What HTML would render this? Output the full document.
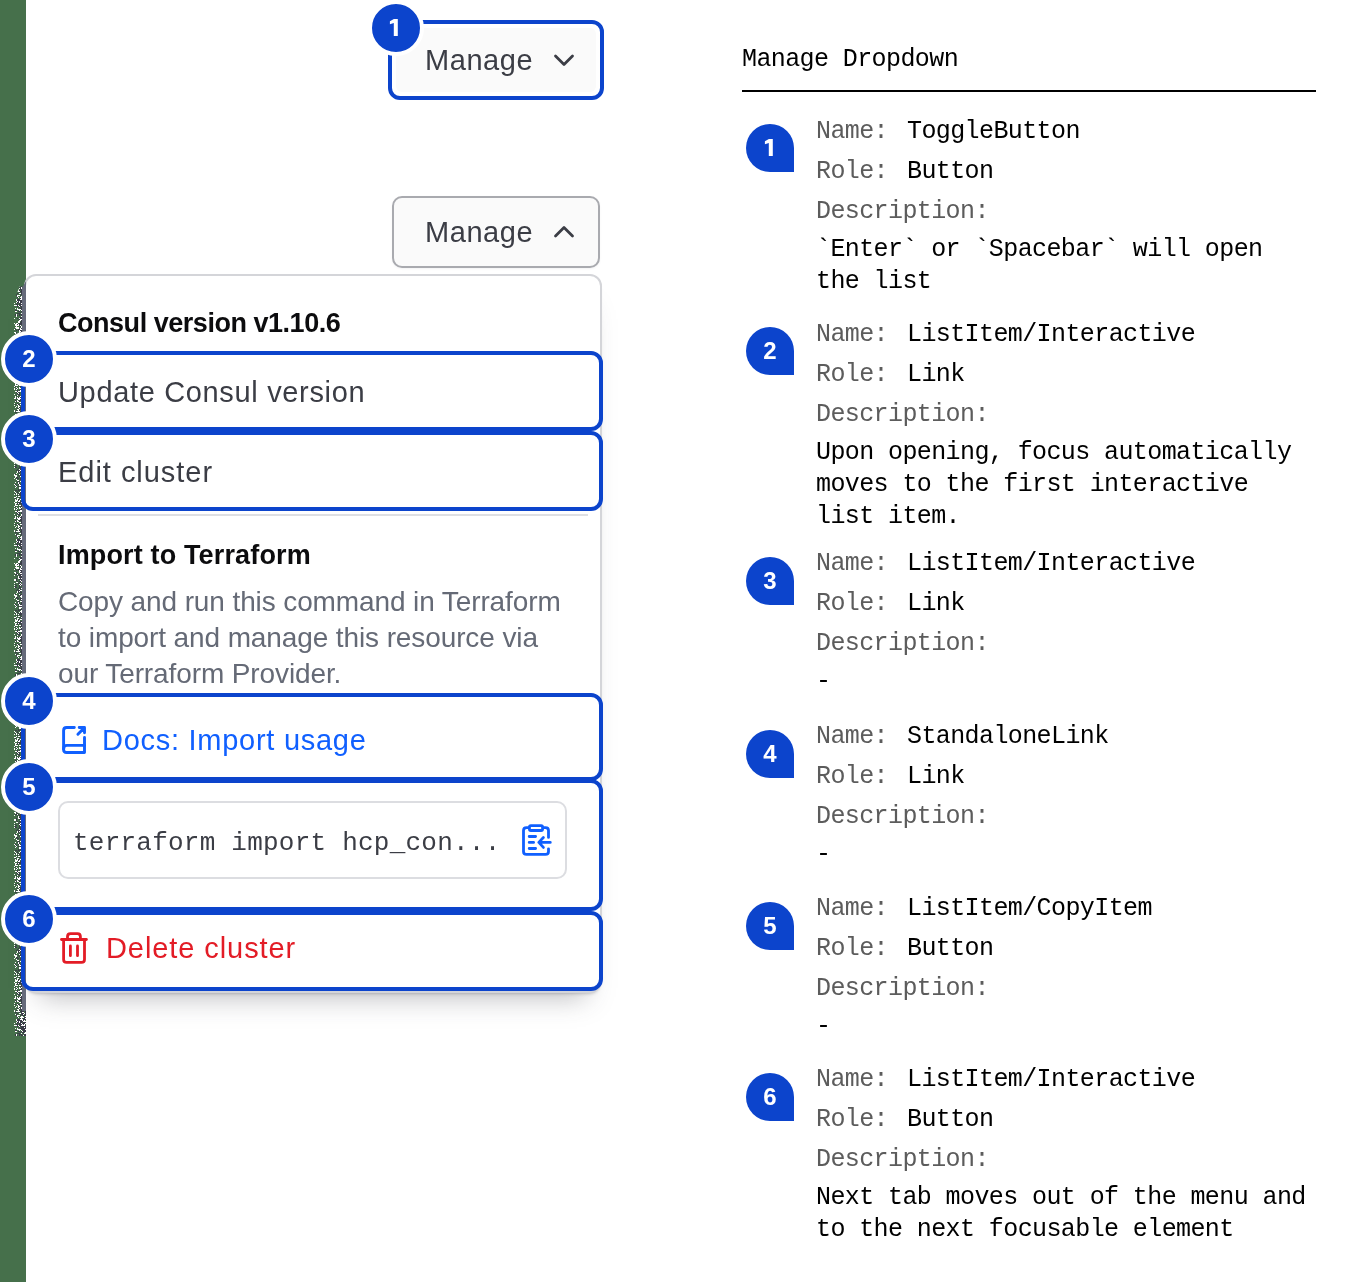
<!DOCTYPE html>
<html><head><meta charset="utf-8">
<style>
*{margin:0;padding:0;box-sizing:border-box}
html,body{width:1361px;height:1282px;overflow:hidden;background:#fff}
body{position:relative;font-family:"Liberation Sans",sans-serif}
.a{position:absolute}
.t{position:absolute;white-space:pre;line-height:1;will-change:transform}
.m{font-family:"Liberation Mono",monospace}
#green{left:0;top:0;width:26px;height:1282px;background:#46704b}
#panel{left:24px;top:274px;width:578px;height:719px;border:2px solid #d4d5d9;border-radius:12px;background:#fff;
 box-shadow:0 3px 3px -2px rgba(59,61,69,.25),0 20px 26px -16px rgba(59,61,69,.35)}
.ol{position:absolute;border:4px solid #0c44cc;border-radius:12px}
.bd{position:absolute;width:56px;height:56px;border-radius:50%;background:#0c44cc;border:4px solid #fff;color:#fff;
 font-weight:bold;font-size:24px;line-height:48px;text-align:center;will-change:transform}
.rb{position:absolute;left:746px;width:48px;height:48px;border-radius:24px 24px 0 24px;background:#0c44cc;color:#fff;
 font-weight:bold;font-size:24px;line-height:48px;text-align:center;will-change:transform}
.lb{color:#5c5c5c;font-size:25px;letter-spacing:-0.6px}
.vl{color:#000;font-size:25px;letter-spacing:-0.6px}
</style></head><body>
<div id="green" class="a"></div>

<!-- button 1 (focused) -->
<div class="a" style="left:392px;top:24px;width:208px;height:72px;border-radius:10px;background:#fff"></div>
<div class="a" style="left:396px;top:28px;width:200px;height:64px;border-radius:6px;background:#fafafa"></div>
<div class="t" style="left:424.7px;top:46px;font-size:29px;color:#3b3d45;letter-spacing:0.56px">Manage</div>
<svg class="a" style="left:550px;top:48px" width="28" height="24" viewBox="0 0 28 24"><path d="M5.5 8.1 L14 16.6 L22.5 8.1" fill="none" stroke="#3b3d45" stroke-width="2.8" stroke-linecap="round" stroke-linejoin="round"/></svg>
<div class="ol" style="left:388px;top:20px;width:216px;height:80px"></div>
<div class="bd" style="left:368px;top:0px"><svg width="48" height="48" viewBox="0 0 48 48" style="position:absolute;left:-1px;top:0"><path fill="#fff" d="M26.8 15 V32 H22.8 V19.1 L18.9 20.3 V17.2 L22.9 15 Z"/></svg></div>

<!-- button 2 -->
<div class="a" style="left:392px;top:196px;width:208px;height:72px;border-radius:10px;background:#fafafa;border:2px solid #a9aaaf;box-shadow:0 1px 2px rgba(101,106,118,.08)"></div>
<div class="t" style="left:424.7px;top:218px;font-size:29px;color:#3b3d45;letter-spacing:0.56px">Manage</div>
<svg class="a" style="left:550px;top:220px" width="28" height="24" viewBox="0 0 28 24"><path d="M5.5 16 L14 7.5 L22.5 16" fill="none" stroke="#3b3d45" stroke-width="2.8" stroke-linecap="round" stroke-linejoin="round"/></svg>

<!-- panel -->
<div id="panel" class="a"></div>
<div class="t" style="left:57.9px;top:310px;font-size:27px;font-weight:bold;color:#0c0c0e;letter-spacing:-0.47px">Consul version v1.10.6</div>
<div class="t" style="left:57.70px;top:377.80px;font-size:29px;color:#3b3d45;letter-spacing:0.66px">Update Consul version</div>
<div class="t" style="left:57.90px;top:457.81px;font-size:29px;color:#3b3d45;letter-spacing:0.97px">Edit cluster</div>
<div class="a" style="left:38px;top:514px;width:550px;height:2px;background:#dedfe3"></div>
<div class="t" style="left:57.8px;top:541.5px;font-size:27px;font-weight:bold;color:#0c0c0e;letter-spacing:0.15px">Import to Terraform</div>
<div class="t" style="left:57.8px;top:584.3px;font-size:28px;color:#656a76;line-height:36px;letter-spacing:-0.11px">Copy and run this command in Terraform
to import and manage this resource via
our Terraform Provider.</div>
<svg class="a" style="left:58px;top:722px" width="32" height="36" viewBox="58 722 32 36"><g fill="none" stroke="#1060ff" stroke-width="2.9" stroke-linecap="round" stroke-linejoin="round">
<path d="M74.3 727.5 H66.6 Q63.6 727.5 63.6 730.5 V749.5 Q63.6 752.5 66.6 752.5 H84.5 V737.5"/>
<path d="M84.5 745.4 H66.8 Q63.6 745.4 63.6 749"/>
<path d="M77.9 734.2 L84 728.1 M79.2 727.5 H84.5 V732.8"/></g></svg>
<div class="t" style="left:102.20px;top:725.80px;font-size:29px;color:#1060ff;letter-spacing:0.73px">Docs: Import usage</div>
<div class="a" style="left:58px;top:801px;width:509px;height:78px;border:2px solid #dcdde1;border-radius:10px;background:#fff"></div>
<div class="t m" style="left:73.3px;top:830.4px;font-size:26px;color:#3b3d45;letter-spacing:0.23px">terraform import hcp_con...</div>
<svg class="a" style="left:518px;top:820px" width="36" height="40" viewBox="518 820 36 40"><g fill="none" stroke="#1060ff" stroke-width="2.8" stroke-linecap="round" stroke-linejoin="round">
<path d="M529 827.6 H526.5 Q523.5 827.6 523.5 830.6 V851.4 Q523.5 854.4 526.5 854.4 H545.5 Q548.5 854.4 548.5 851.4 V848.8 M548.5 837.4 V830.6 Q548.5 827.6 545.5 827.6 H543"/>
<rect x="529.4" y="825.6" width="13.2" height="4.9" rx="1.5"/>
<path d="M529.2 836.5 H535.6 M529.2 842.4 H533.6 M529.2 848.5 H535.6 M538.9 842.4 H550.3 M543.4 837.5 L538.8 842.4 L543.4 847.4"/></g></svg>
<svg class="a" style="left:58px;top:928px" width="32" height="40" viewBox="58 928 32 40"><g fill="none" stroke="#e31c26" stroke-width="2.8" stroke-linecap="round" stroke-linejoin="round">
<path d="M61.5 939.5 H86.4"/>
<path d="M67.5 939.5 V936.6 Q67.5 933.6 70.5 933.6 H77.4 Q80.4 933.6 80.4 936.6 V939.5"/>
<path d="M63.6 939.5 V959.4 Q63.6 962.4 66.6 962.4 H81.5 Q84.5 962.4 84.5 959.4 V939.5"/>
<path d="M70.4 946 V955.7 M77.5 946 V955.7"/></g></svg>
<div class="t" style="left:106.30px;top:933.91px;font-size:29px;color:#e31c26;letter-spacing:0.92px">Delete cluster</div>

<!-- left strip overlays -->
<svg class="a" style="left:14px;top:286px;clip-path:polygon(100% 0,100% 100%,0 100%,0 14px,6px 0)" width="12" height="750" shape-rendering="crispEdges"><defs><pattern id="dz" width="12" height="120" patternUnits="userSpaceOnUse"><path fill="#fff" d="M2 0h1v1h-1zM4 0h1v1h-1zM5 0h1v1h-1zM1 1h1v1h-1zM4 1h1v1h-1zM7 1h1v1h-1zM11 1h1v1h-1zM5 2h1v1h-1zM7 2h1v1h-1zM11 2h1v1h-1zM3 3h1v1h-1zM4 3h1v1h-1zM8 3h1v1h-1zM0 4h1v1h-1zM4 4h1v1h-1zM0 5h1v1h-1zM2 5h1v1h-1zM3 5h1v1h-1zM4 5h1v1h-1zM5 5h1v1h-1zM8 6h1v1h-1zM9 6h1v1h-1zM5 7h1v1h-1zM6 7h1v1h-1zM10 7h1v1h-1zM1 8h1v1h-1zM9 8h1v1h-1zM3 9h1v1h-1zM4 9h1v1h-1zM5 9h1v1h-1zM3 10h1v1h-1zM7 10h1v1h-1zM8 10h1v1h-1zM11 10h1v1h-1zM4 11h1v1h-1zM6 11h1v1h-1zM7 11h1v1h-1zM8 11h1v1h-1zM9 11h1v1h-1zM7 12h1v1h-1zM11 12h1v1h-1zM2 13h1v1h-1zM6 13h1v1h-1zM7 13h1v1h-1zM8 13h1v1h-1zM2 14h1v1h-1zM8 14h1v1h-1zM10 14h1v1h-1zM3 15h1v1h-1zM5 15h1v1h-1zM9 15h1v1h-1zM10 15h1v1h-1zM11 15h1v1h-1zM2 16h1v1h-1zM5 16h1v1h-1zM0 17h1v1h-1zM7 17h1v1h-1zM11 17h1v1h-1zM8 18h1v1h-1zM10 18h1v1h-1zM0 19h1v1h-1zM1 19h1v1h-1zM2 19h1v1h-1zM4 19h1v1h-1zM7 19h1v1h-1zM8 19h1v1h-1zM9 19h1v1h-1zM10 19h1v1h-1zM5 20h1v1h-1zM10 21h1v1h-1zM1 22h1v1h-1zM3 22h1v1h-1zM3 23h1v1h-1zM4 23h1v1h-1zM5 23h1v1h-1zM6 23h1v1h-1zM11 23h1v1h-1zM5 24h1v1h-1zM7 24h1v1h-1zM1 25h1v1h-1zM2 25h1v1h-1zM8 25h1v1h-1zM11 26h1v1h-1zM7 27h1v1h-1zM10 27h1v1h-1zM11 27h1v1h-1zM2 28h1v1h-1zM2 29h1v1h-1zM9 29h1v1h-1zM2 30h1v1h-1zM7 30h1v1h-1zM8 30h1v1h-1zM9 30h1v1h-1zM11 30h1v1h-1zM8 31h1v1h-1zM11 31h1v1h-1zM0 32h1v1h-1zM5 32h1v1h-1zM8 32h1v1h-1zM6 33h1v1h-1zM7 33h1v1h-1zM5 34h1v1h-1zM6 34h1v1h-1zM10 34h1v1h-1zM4 35h1v1h-1zM5 35h1v1h-1zM9 35h1v1h-1zM11 35h1v1h-1zM4 36h1v1h-1zM5 36h1v1h-1zM10 36h1v1h-1zM11 36h1v1h-1zM0 37h1v1h-1zM2 37h1v1h-1zM3 37h1v1h-1zM10 37h1v1h-1zM1 38h1v1h-1zM2 38h1v1h-1zM4 38h1v1h-1zM8 38h1v1h-1zM10 38h1v1h-1zM11 38h1v1h-1zM1 39h1v1h-1zM2 39h1v1h-1zM3 39h1v1h-1zM4 39h1v1h-1zM6 39h1v1h-1zM2 40h1v1h-1zM7 40h1v1h-1zM11 40h1v1h-1zM1 41h1v1h-1zM2 41h1v1h-1zM3 41h1v1h-1zM4 41h1v1h-1zM7 41h1v1h-1zM9 41h1v1h-1zM2 42h1v1h-1zM3 42h1v1h-1zM4 42h1v1h-1zM6 42h1v1h-1zM9 42h1v1h-1zM11 42h1v1h-1zM0 43h1v1h-1zM6 43h1v1h-1zM7 43h1v1h-1zM8 43h1v1h-1zM10 43h1v1h-1zM5 44h1v1h-1zM8 44h1v1h-1zM5 45h1v1h-1zM6 45h1v1h-1zM11 45h1v1h-1zM0 46h1v1h-1zM1 46h1v1h-1zM5 46h1v1h-1zM8 46h1v1h-1zM10 46h1v1h-1zM1 47h1v1h-1zM6 47h1v1h-1zM7 47h1v1h-1zM8 47h1v1h-1zM3 48h1v1h-1zM10 48h1v1h-1zM0 49h1v1h-1zM7 49h1v1h-1zM9 49h1v1h-1zM11 49h1v1h-1zM4 50h1v1h-1zM9 50h1v1h-1zM10 50h1v1h-1zM4 51h1v1h-1zM10 51h1v1h-1zM11 51h1v1h-1zM4 52h1v1h-1zM5 52h1v1h-1zM7 52h1v1h-1zM8 52h1v1h-1zM9 52h1v1h-1zM10 52h1v1h-1zM0 53h1v1h-1zM1 53h1v1h-1zM10 53h1v1h-1zM0 54h1v1h-1zM1 54h1v1h-1zM6 54h1v1h-1zM7 55h1v1h-1zM8 55h1v1h-1zM9 55h1v1h-1zM2 56h1v1h-1zM3 56h1v1h-1zM8 56h1v1h-1zM0 57h1v1h-1zM6 57h1v1h-1zM11 57h1v1h-1zM5 58h1v1h-1zM7 58h1v1h-1zM11 58h1v1h-1zM0 59h1v1h-1zM6 59h1v1h-1zM9 59h1v1h-1zM10 59h1v1h-1zM9 60h1v1h-1zM0 61h1v1h-1zM9 61h1v1h-1zM10 61h1v1h-1zM11 61h1v1h-1zM7 62h1v1h-1zM8 62h1v1h-1zM5 63h1v1h-1zM6 64h1v1h-1zM7 64h1v1h-1zM10 64h1v1h-1zM3 65h1v1h-1zM5 65h1v1h-1zM8 65h1v1h-1zM3 66h1v1h-1zM11 66h1v1h-1zM2 67h1v1h-1zM10 67h1v1h-1zM0 68h1v1h-1zM5 68h1v1h-1zM8 68h1v1h-1zM0 69h1v1h-1zM1 69h1v1h-1zM2 69h1v1h-1zM7 69h1v1h-1zM9 69h1v1h-1zM10 69h1v1h-1zM11 69h1v1h-1zM1 70h1v1h-1zM2 70h1v1h-1zM6 70h1v1h-1zM7 70h1v1h-1zM11 70h1v1h-1zM1 71h1v1h-1zM7 71h1v1h-1zM11 71h1v1h-1zM0 72h1v1h-1zM8 72h1v1h-1zM9 72h1v1h-1zM10 72h1v1h-1zM11 72h1v1h-1zM2 73h1v1h-1zM7 73h1v1h-1zM8 73h1v1h-1zM9 73h1v1h-1zM3 74h1v1h-1zM4 74h1v1h-1zM9 74h1v1h-1zM10 74h1v1h-1zM6 75h1v1h-1zM7 75h1v1h-1zM9 75h1v1h-1zM1 76h1v1h-1zM4 76h1v1h-1zM4 77h1v1h-1zM10 77h1v1h-1zM11 77h1v1h-1zM0 78h1v1h-1zM5 78h1v1h-1zM9 78h1v1h-1zM11 78h1v1h-1zM1 79h1v1h-1zM5 79h1v1h-1zM6 79h1v1h-1zM7 79h1v1h-1zM8 79h1v1h-1zM9 79h1v1h-1zM2 80h1v1h-1zM9 80h1v1h-1zM1 81h1v1h-1zM5 81h1v1h-1zM6 81h1v1h-1zM7 81h1v1h-1zM11 81h1v1h-1zM5 82h1v1h-1zM6 82h1v1h-1zM10 83h1v1h-1zM7 84h1v1h-1zM9 84h1v1h-1zM11 84h1v1h-1zM0 85h1v1h-1zM6 85h1v1h-1zM7 85h1v1h-1zM9 85h1v1h-1zM10 85h1v1h-1zM1 86h1v1h-1zM5 86h1v1h-1zM7 86h1v1h-1zM2 87h1v1h-1zM8 87h1v1h-1zM11 87h1v1h-1zM0 88h1v1h-1zM2 88h1v1h-1zM4 88h1v1h-1zM8 88h1v1h-1zM11 88h1v1h-1zM9 89h1v1h-1zM10 89h1v1h-1zM11 89h1v1h-1zM2 90h1v1h-1zM4 90h1v1h-1zM5 90h1v1h-1zM8 90h1v1h-1zM9 90h1v1h-1zM0 91h1v1h-1zM1 91h1v1h-1zM7 91h1v1h-1zM3 92h1v1h-1zM4 92h1v1h-1zM11 92h1v1h-1zM1 93h1v1h-1zM3 93h1v1h-1zM6 93h1v1h-1zM7 93h1v1h-1zM1 94h1v1h-1zM2 94h1v1h-1zM3 94h1v1h-1zM5 94h1v1h-1zM8 94h1v1h-1zM10 94h1v1h-1zM1 95h1v1h-1zM2 95h1v1h-1zM4 95h1v1h-1zM5 95h1v1h-1zM8 95h1v1h-1zM11 95h1v1h-1zM0 96h1v1h-1zM7 96h1v1h-1zM9 96h1v1h-1zM10 96h1v1h-1zM1 97h1v1h-1zM2 97h1v1h-1zM4 97h1v1h-1zM11 97h1v1h-1zM1 98h1v1h-1zM8 98h1v1h-1zM9 98h1v1h-1zM1 99h1v1h-1zM2 99h1v1h-1zM3 99h1v1h-1zM5 99h1v1h-1zM6 99h1v1h-1zM0 100h1v1h-1zM11 100h1v1h-1zM2 101h1v1h-1zM5 101h1v1h-1zM7 101h1v1h-1zM8 101h1v1h-1zM10 101h1v1h-1zM11 101h1v1h-1zM0 102h1v1h-1zM3 102h1v1h-1zM5 102h1v1h-1zM6 102h1v1h-1zM8 102h1v1h-1zM11 102h1v1h-1zM0 103h1v1h-1zM2 103h1v1h-1zM6 104h1v1h-1zM7 104h1v1h-1zM10 104h1v1h-1zM1 105h1v1h-1zM2 105h1v1h-1zM4 105h1v1h-1zM5 105h1v1h-1zM6 105h1v1h-1zM7 105h1v1h-1zM3 106h1v1h-1zM4 107h1v1h-1zM10 107h1v1h-1zM0 108h1v1h-1zM7 108h1v1h-1zM8 108h1v1h-1zM9 108h1v1h-1zM11 108h1v1h-1zM3 109h1v1h-1zM7 109h1v1h-1zM1 110h1v1h-1zM6 110h1v1h-1zM1 111h1v1h-1zM3 111h1v1h-1zM5 111h1v1h-1zM9 111h1v1h-1zM0 112h1v1h-1zM1 112h1v1h-1zM3 112h1v1h-1zM4 112h1v1h-1zM5 112h1v1h-1zM6 112h1v1h-1zM4 113h1v1h-1zM5 113h1v1h-1zM8 113h1v1h-1zM11 113h1v1h-1zM3 114h1v1h-1zM8 114h1v1h-1zM1 115h1v1h-1zM3 115h1v1h-1zM4 115h1v1h-1zM8 115h1v1h-1zM10 115h1v1h-1zM5 116h1v1h-1zM6 116h1v1h-1zM8 116h1v1h-1zM9 116h1v1h-1zM10 116h1v1h-1zM0 117h1v1h-1zM3 118h1v1h-1zM6 118h1v1h-1zM7 118h1v1h-1zM9 118h1v1h-1zM11 118h1v1h-1zM0 119h1v1h-1zM4 119h1v1h-1zM8 119h1v1h-1zM9 119h1v1h-1zM10 119h1v1h-1z"/><path fill="#3a3c48" d="M7 0h1v1h-1zM9 0h1v1h-1zM5 1h1v1h-1zM6 1h1v1h-1zM8 1h1v1h-1zM10 1h1v1h-1zM3 2h1v1h-1zM6 2h1v1h-1zM8 2h1v1h-1zM6 3h1v1h-1zM7 3h1v1h-1zM9 3h1v1h-1zM10 3h1v1h-1zM11 3h1v1h-1zM2 4h1v1h-1zM5 4h1v1h-1zM7 4h1v1h-1zM9 4h1v1h-1zM10 4h1v1h-1zM11 4h1v1h-1zM6 5h1v1h-1zM7 5h1v1h-1zM8 5h1v1h-1zM9 5h1v1h-1zM11 5h1v1h-1zM1 6h1v1h-1zM2 6h1v1h-1zM5 6h1v1h-1zM7 6h1v1h-1zM11 6h1v1h-1zM3 7h1v1h-1zM7 7h1v1h-1zM8 7h1v1h-1zM9 7h1v1h-1zM11 7h1v1h-1zM2 8h1v1h-1zM7 8h1v1h-1zM8 8h1v1h-1zM11 8h1v1h-1zM2 9h1v1h-1zM6 9h1v1h-1zM8 9h1v1h-1zM9 9h1v1h-1zM10 9h1v1h-1zM11 9h1v1h-1zM3 11h1v1h-1zM10 11h1v1h-1zM11 11h1v1h-1zM6 12h1v1h-1zM9 12h1v1h-1zM10 12h1v1h-1zM3 13h1v1h-1zM4 13h1v1h-1zM5 13h1v1h-1zM9 13h1v1h-1zM10 13h1v1h-1zM11 13h1v1h-1zM3 14h1v1h-1zM4 14h1v1h-1zM5 14h1v1h-1zM6 14h1v1h-1zM7 14h1v1h-1zM9 14h1v1h-1zM4 15h1v1h-1zM6 15h1v1h-1zM7 15h1v1h-1zM8 15h1v1h-1zM3 16h1v1h-1zM4 16h1v1h-1zM6 16h1v1h-1zM7 16h1v1h-1zM9 16h1v1h-1zM10 16h1v1h-1zM11 16h1v1h-1zM3 17h1v1h-1zM5 17h1v1h-1zM6 17h1v1h-1zM8 17h1v1h-1zM9 17h1v1h-1zM10 17h1v1h-1zM2 18h1v1h-1zM3 18h1v1h-1zM5 18h1v1h-1zM6 18h1v1h-1zM7 18h1v1h-1zM9 18h1v1h-1zM3 19h1v1h-1zM5 19h1v1h-1zM6 19h1v1h-1zM11 19h1v1h-1zM3 20h1v1h-1zM6 20h1v1h-1zM7 20h1v1h-1zM8 20h1v1h-1zM9 20h1v1h-1zM10 20h1v1h-1zM11 20h1v1h-1zM5 21h1v1h-1zM7 21h1v1h-1zM8 21h1v1h-1zM9 21h1v1h-1zM11 21h1v1h-1zM6 22h1v1h-1zM7 22h1v1h-1zM8 22h1v1h-1zM9 22h1v1h-1zM10 22h1v1h-1zM11 22h1v1h-1zM7 23h1v1h-1zM8 23h1v1h-1zM9 23h1v1h-1zM10 23h1v1h-1zM1 24h1v1h-1zM2 24h1v1h-1zM9 24h1v1h-1zM10 24h1v1h-1zM11 24h1v1h-1zM4 25h1v1h-1zM5 25h1v1h-1zM7 25h1v1h-1zM9 25h1v1h-1zM10 25h1v1h-1zM11 25h1v1h-1zM6 26h1v1h-1zM8 26h1v1h-1zM9 26h1v1h-1zM3 27h1v1h-1zM4 27h1v1h-1zM5 27h1v1h-1zM9 27h1v1h-1zM1 28h1v1h-1zM5 28h1v1h-1zM6 28h1v1h-1zM7 28h1v1h-1zM10 28h1v1h-1zM11 28h1v1h-1zM1 29h1v1h-1zM3 29h1v1h-1zM5 29h1v1h-1zM7 29h1v1h-1zM8 29h1v1h-1zM10 29h1v1h-1zM11 29h1v1h-1zM10 30h1v1h-1zM6 31h1v1h-1zM7 31h1v1h-1zM9 31h1v1h-1zM10 31h1v1h-1zM3 32h1v1h-1zM6 32h1v1h-1zM7 32h1v1h-1zM9 32h1v1h-1zM10 32h1v1h-1zM11 32h1v1h-1zM5 33h1v1h-1zM9 33h1v1h-1zM10 33h1v1h-1zM11 33h1v1h-1zM7 34h1v1h-1zM8 34h1v1h-1zM9 34h1v1h-1zM11 34h1v1h-1zM7 35h1v1h-1zM6 36h1v1h-1zM7 36h1v1h-1zM8 36h1v1h-1zM9 36h1v1h-1zM5 37h1v1h-1zM6 37h1v1h-1zM7 37h1v1h-1zM8 37h1v1h-1zM9 37h1v1h-1zM11 37h1v1h-1zM3 38h1v1h-1zM5 38h1v1h-1zM6 38h1v1h-1zM7 38h1v1h-1zM5 39h1v1h-1zM8 39h1v1h-1zM9 39h1v1h-1zM10 39h1v1h-1zM11 39h1v1h-1zM6 40h1v1h-1zM8 40h1v1h-1zM9 40h1v1h-1zM10 40h1v1h-1zM8 41h1v1h-1zM10 41h1v1h-1zM7 42h1v1h-1zM8 42h1v1h-1zM10 42h1v1h-1zM1 43h1v1h-1zM4 43h1v1h-1zM5 43h1v1h-1zM9 43h1v1h-1zM11 43h1v1h-1zM2 44h1v1h-1zM4 44h1v1h-1zM6 44h1v1h-1zM7 44h1v1h-1zM9 44h1v1h-1zM10 44h1v1h-1zM7 45h1v1h-1zM9 45h1v1h-1zM10 45h1v1h-1zM2 46h1v1h-1zM6 46h1v1h-1zM7 46h1v1h-1zM9 46h1v1h-1zM3 47h1v1h-1zM9 47h1v1h-1zM10 47h1v1h-1zM11 47h1v1h-1zM1 48h1v1h-1zM2 48h1v1h-1zM4 48h1v1h-1zM6 48h1v1h-1zM7 48h1v1h-1zM8 48h1v1h-1zM9 48h1v1h-1zM5 49h1v1h-1zM6 49h1v1h-1zM8 49h1v1h-1zM10 49h1v1h-1zM3 50h1v1h-1zM6 50h1v1h-1zM7 50h1v1h-1zM8 50h1v1h-1zM5 51h1v1h-1zM6 51h1v1h-1zM7 51h1v1h-1zM8 51h1v1h-1zM9 51h1v1h-1zM2 52h1v1h-1zM6 52h1v1h-1zM11 52h1v1h-1zM2 53h1v1h-1zM5 53h1v1h-1zM6 53h1v1h-1zM7 53h1v1h-1zM8 53h1v1h-1zM11 53h1v1h-1zM2 54h1v1h-1zM7 54h1v1h-1zM8 54h1v1h-1zM9 54h1v1h-1zM10 54h1v1h-1zM11 54h1v1h-1zM3 55h1v1h-1zM5 55h1v1h-1zM6 55h1v1h-1zM10 55h1v1h-1zM11 55h1v1h-1zM6 56h1v1h-1zM9 56h1v1h-1zM10 56h1v1h-1zM11 56h1v1h-1zM4 57h1v1h-1zM5 57h1v1h-1zM8 57h1v1h-1zM9 57h1v1h-1zM10 57h1v1h-1zM1 58h1v1h-1zM6 58h1v1h-1zM8 58h1v1h-1zM9 58h1v1h-1zM10 58h1v1h-1zM2 59h1v1h-1zM5 59h1v1h-1zM7 59h1v1h-1zM8 59h1v1h-1zM11 59h1v1h-1zM1 60h1v1h-1zM5 60h1v1h-1zM10 60h1v1h-1zM11 60h1v1h-1zM1 61h1v1h-1zM2 61h1v1h-1zM5 61h1v1h-1zM6 61h1v1h-1zM8 61h1v1h-1zM4 62h1v1h-1zM6 62h1v1h-1zM9 62h1v1h-1zM10 62h1v1h-1zM11 62h1v1h-1zM3 63h1v1h-1zM6 63h1v1h-1zM8 63h1v1h-1zM9 63h1v1h-1zM10 63h1v1h-1zM2 64h1v1h-1zM4 64h1v1h-1zM5 64h1v1h-1zM8 64h1v1h-1zM9 64h1v1h-1zM11 64h1v1h-1zM4 65h1v1h-1zM6 65h1v1h-1zM9 65h1v1h-1zM10 65h1v1h-1zM11 65h1v1h-1zM4 66h1v1h-1zM6 66h1v1h-1zM7 66h1v1h-1zM8 66h1v1h-1zM9 66h1v1h-1zM10 66h1v1h-1zM5 67h1v1h-1zM9 67h1v1h-1zM11 67h1v1h-1zM1 68h1v1h-1zM6 68h1v1h-1zM7 68h1v1h-1zM9 68h1v1h-1zM10 68h1v1h-1zM11 68h1v1h-1zM4 69h1v1h-1zM6 69h1v1h-1zM8 69h1v1h-1zM5 70h1v1h-1zM8 70h1v1h-1zM9 70h1v1h-1zM10 70h1v1h-1zM2 71h1v1h-1zM3 71h1v1h-1zM8 71h1v1h-1zM9 71h1v1h-1zM10 71h1v1h-1zM3 72h1v1h-1zM4 72h1v1h-1zM6 72h1v1h-1zM7 72h1v1h-1zM6 73h1v1h-1zM10 73h1v1h-1zM11 73h1v1h-1zM7 74h1v1h-1zM8 74h1v1h-1zM11 74h1v1h-1zM4 75h1v1h-1zM5 75h1v1h-1zM8 75h1v1h-1zM11 75h1v1h-1zM3 76h1v1h-1zM7 76h1v1h-1zM8 76h1v1h-1zM9 76h1v1h-1zM11 76h1v1h-1zM5 77h1v1h-1zM7 77h1v1h-1zM8 77h1v1h-1zM9 77h1v1h-1zM1 78h1v1h-1zM4 78h1v1h-1zM6 78h1v1h-1zM7 78h1v1h-1zM8 78h1v1h-1zM10 78h1v1h-1zM2 79h1v1h-1zM10 79h1v1h-1zM11 79h1v1h-1zM4 80h1v1h-1zM6 80h1v1h-1zM7 80h1v1h-1zM8 80h1v1h-1zM10 80h1v1h-1zM11 80h1v1h-1zM8 81h1v1h-1zM9 81h1v1h-1zM10 81h1v1h-1zM8 82h1v1h-1zM10 82h1v1h-1zM11 82h1v1h-1zM4 83h1v1h-1zM6 83h1v1h-1zM7 83h1v1h-1zM8 83h1v1h-1zM9 83h1v1h-1zM11 83h1v1h-1zM1 84h1v1h-1zM2 84h1v1h-1zM4 84h1v1h-1zM5 84h1v1h-1zM8 84h1v1h-1zM10 84h1v1h-1zM3 85h1v1h-1zM11 85h1v1h-1zM3 86h1v1h-1zM6 86h1v1h-1zM8 86h1v1h-1zM9 86h1v1h-1zM10 86h1v1h-1zM11 86h1v1h-1zM1 87h1v1h-1zM4 87h1v1h-1zM6 87h1v1h-1zM7 87h1v1h-1zM9 87h1v1h-1zM10 87h1v1h-1zM5 88h1v1h-1zM6 88h1v1h-1zM7 88h1v1h-1zM3 89h1v1h-1zM6 89h1v1h-1zM7 90h1v1h-1zM11 90h1v1h-1zM5 91h1v1h-1zM6 91h1v1h-1zM8 91h1v1h-1zM9 91h1v1h-1zM10 91h1v1h-1zM11 91h1v1h-1zM1 92h1v1h-1zM7 92h1v1h-1zM9 92h1v1h-1zM10 92h1v1h-1zM4 93h1v1h-1zM9 93h1v1h-1zM10 93h1v1h-1zM11 93h1v1h-1zM4 94h1v1h-1zM11 94h1v1h-1zM6 95h1v1h-1zM7 95h1v1h-1zM9 95h1v1h-1zM10 95h1v1h-1zM4 96h1v1h-1zM5 96h1v1h-1zM6 96h1v1h-1zM8 96h1v1h-1zM11 96h1v1h-1zM3 97h1v1h-1zM5 97h1v1h-1zM6 97h1v1h-1zM7 97h1v1h-1zM8 97h1v1h-1zM9 97h1v1h-1zM10 97h1v1h-1zM3 98h1v1h-1zM7 98h1v1h-1zM7 99h1v1h-1zM8 99h1v1h-1zM9 99h1v1h-1zM11 99h1v1h-1zM1 100h1v1h-1zM6 100h1v1h-1zM7 100h1v1h-1zM8 100h1v1h-1zM9 100h1v1h-1zM10 100h1v1h-1zM9 101h1v1h-1zM2 102h1v1h-1zM7 102h1v1h-1zM9 102h1v1h-1zM10 102h1v1h-1zM6 103h1v1h-1zM7 103h1v1h-1zM9 103h1v1h-1zM10 103h1v1h-1zM11 103h1v1h-1zM3 104h1v1h-1zM5 104h1v1h-1zM8 104h1v1h-1zM9 104h1v1h-1zM11 104h1v1h-1zM3 105h1v1h-1zM8 105h1v1h-1zM10 105h1v1h-1zM2 106h1v1h-1zM5 106h1v1h-1zM7 106h1v1h-1zM8 106h1v1h-1zM9 106h1v1h-1zM10 106h1v1h-1zM11 106h1v1h-1zM3 107h1v1h-1zM5 107h1v1h-1zM7 107h1v1h-1zM8 107h1v1h-1zM9 107h1v1h-1zM11 107h1v1h-1zM4 108h1v1h-1zM5 108h1v1h-1zM10 108h1v1h-1zM2 109h1v1h-1zM5 109h1v1h-1zM8 109h1v1h-1zM9 109h1v1h-1zM10 109h1v1h-1zM11 109h1v1h-1zM7 110h1v1h-1zM8 110h1v1h-1zM9 110h1v1h-1zM10 110h1v1h-1zM11 110h1v1h-1zM4 111h1v1h-1zM6 111h1v1h-1zM7 111h1v1h-1zM8 111h1v1h-1zM10 111h1v1h-1zM11 111h1v1h-1zM2 112h1v1h-1zM7 112h1v1h-1zM9 112h1v1h-1zM10 112h1v1h-1zM11 112h1v1h-1zM6 113h1v1h-1zM7 113h1v1h-1zM9 113h1v1h-1zM10 113h1v1h-1zM1 114h1v1h-1zM5 114h1v1h-1zM6 114h1v1h-1zM7 114h1v1h-1zM9 114h1v1h-1zM10 114h1v1h-1zM11 114h1v1h-1zM2 115h1v1h-1zM5 115h1v1h-1zM7 115h1v1h-1zM9 115h1v1h-1zM11 115h1v1h-1zM7 116h1v1h-1zM11 116h1v1h-1zM3 117h1v1h-1zM7 117h1v1h-1zM8 117h1v1h-1zM9 117h1v1h-1zM10 117h1v1h-1zM11 117h1v1h-1zM1 118h1v1h-1zM4 118h1v1h-1zM5 118h1v1h-1zM8 118h1v1h-1zM10 118h1v1h-1zM7 119h1v1h-1zM11 119h1v1h-1z"/></pattern></defs><rect width="12" height="750" fill="url(#dz)"/></svg>
<div class="a" style="left:22px;top:281px;width:4px;height:730px;background:#666b7b;clip-path:polygon(100% 0,100% 100%,0 100%,0 7px)"></div>

<!-- outlines -->
<div class="ol" style="left:21px;top:351px;width:582px;height:80px"></div>
<div class="ol" style="left:21px;top:431px;width:582px;height:80px"></div>
<div class="ol" style="left:21px;top:693px;width:582px;height:88px"></div>
<div class="ol" style="left:21px;top:779px;width:582px;height:132px"></div>
<div class="ol" style="left:21px;top:911px;width:582px;height:80px"></div>
<div class="bd" style="left:1px;top:331px">2</div>
<div class="bd" style="left:1px;top:411px">3</div>
<div class="bd" style="left:1px;top:673px">4</div>
<div class="bd" style="left:1px;top:759px">5</div>
<div class="bd" style="left:1px;top:891px">6</div>
<!-- right column -->
<div class="t m" style="left:742px;top:46.8px;font-size:25px;letter-spacing:-0.6px;color:#000">Manage Dropdown</div>
<div class="a" style="left:742px;top:90px;width:574px;height:2px;background:#000"></div>
<div class="rb" style="top:123.8px"><svg width="48" height="48" viewBox="0 0 48 48" style="position:absolute;left:0;top:0"><path fill="#fff" d="M26.8 15 V32 H22.8 V19.1 L18.9 20.3 V17.2 L22.9 15 Z"/></svg></div>
<div class="t m lb" style="left:815.5px;top:118.6px">Name:</div>
<div class="t m vl" style="left:906.5px;top:118.6px">ToggleButton</div>
<div class="t m lb" style="left:815.5px;top:158.6px">Role:</div>
<div class="t m vl" style="left:906.5px;top:158.6px">Button</div>
<div class="t m lb" style="left:815.5px;top:198.6px">Description:</div>
<div class="t m vl" style="left:815.5px;top:236.6px">`Enter` or `Spacebar` will open</div>
<div class="t m vl" style="left:815.5px;top:268.6px">the list</div>
<div class="rb" style="top:327.0px">2</div>
<div class="t m lb" style="left:815.5px;top:321.8px">Name:</div>
<div class="t m vl" style="left:906.5px;top:321.8px">ListItem/Interactive</div>
<div class="t m lb" style="left:815.5px;top:361.8px">Role:</div>
<div class="t m vl" style="left:906.5px;top:361.8px">Link</div>
<div class="t m lb" style="left:815.5px;top:401.8px">Description:</div>
<div class="t m vl" style="left:815.5px;top:439.8px">Upon opening, focus automatically</div>
<div class="t m vl" style="left:815.5px;top:471.8px">moves to the first interactive</div>
<div class="t m vl" style="left:815.5px;top:503.8px">list item.</div>
<div class="rb" style="top:556.5px">3</div>
<div class="t m lb" style="left:815.5px;top:551.2px">Name:</div>
<div class="t m vl" style="left:906.5px;top:551.2px">ListItem/Interactive</div>
<div class="t m lb" style="left:815.5px;top:591.2px">Role:</div>
<div class="t m vl" style="left:906.5px;top:591.2px">Link</div>
<div class="t m lb" style="left:815.5px;top:631.2px">Description:</div>
<div class="t m vl" style="left:815.5px;top:669.2px">-</div>
<div class="rb" style="top:729.5px">4</div>
<div class="t m lb" style="left:815.5px;top:724.2px">Name:</div>
<div class="t m vl" style="left:906.5px;top:724.2px">StandaloneLink</div>
<div class="t m lb" style="left:815.5px;top:764.2px">Role:</div>
<div class="t m vl" style="left:906.5px;top:764.2px">Link</div>
<div class="t m lb" style="left:815.5px;top:804.2px">Description:</div>
<div class="t m vl" style="left:815.5px;top:842.2px">-</div>
<div class="rb" style="top:901.6px">5</div>
<div class="t m lb" style="left:815.5px;top:896.4px">Name:</div>
<div class="t m vl" style="left:906.5px;top:896.4px">ListItem/CopyItem</div>
<div class="t m lb" style="left:815.5px;top:936.4px">Role:</div>
<div class="t m vl" style="left:906.5px;top:936.4px">Button</div>
<div class="t m lb" style="left:815.5px;top:976.4px">Description:</div>
<div class="t m vl" style="left:815.5px;top:1014.3px">-</div>
<div class="rb" style="top:1072.6px">6</div>
<div class="t m lb" style="left:815.5px;top:1067.3px">Name:</div>
<div class="t m vl" style="left:906.5px;top:1067.3px">ListItem/Interactive</div>
<div class="t m lb" style="left:815.5px;top:1107.3px">Role:</div>
<div class="t m vl" style="left:906.5px;top:1107.3px">Button</div>
<div class="t m lb" style="left:815.5px;top:1147.3px">Description:</div>
<div class="t m vl" style="left:815.5px;top:1185.3px">Next tab moves out of the menu and</div>
<div class="t m vl" style="left:815.5px;top:1217.3px">to the next focusable element</div>
</body></html>
